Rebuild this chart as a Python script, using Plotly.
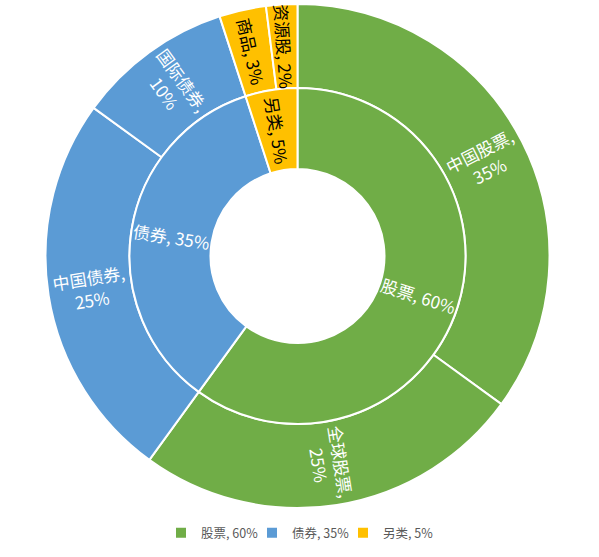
import math
import plotly.graph_objects as go

# Inner ring: asset classes
inner_names = ["股票", "债券", "另类"]
inner_values = [60, 35, 5]
# Outer ring: sub-categories
outer_names = ["中国股票", "全球股票", "中国债券", "国际债券", "商品", "资源股"]
outer_values = [35, 25, 25, 10, 3, 2]
outer_parent = ["股票", "股票", "债券", "债券", "另类", "另类"]

color_map = {"股票": "#70AD47", "债券": "#5B9BD5", "另类": "#FFC000"}
text_color_map = {"股票": "white", "债券": "white", "另类": "black"}

FONT = "Noto Sans CJK SC, Microsoft YaHei, sans-serif"

# geometry (pixels)
W, H = 599, 557
ML, MR, MT, MB = 45, 49, 4, 49
PW, PH = W - ML - MR, H - MT - MB
R_OUT, R_MID, R_IN = 252, 168, 87

inner_labels = [f"{n}, {v}%" for n, v in zip(inner_names, inner_values)]
outer_text = [f"{n},<br>{v}%" if v >= 10 else f"{n}, {v}%"
              for n, v in zip(outer_names, outer_values)]

fig = go.Figure()

fig.add_trace(go.Pie(
    labels=outer_names,
    values=outer_values,
    textinfo="none",
    hole=R_MID / R_OUT,
    sort=False,
    direction="clockwise",
    rotation=0,
    marker=dict(colors=[color_map[p] for p in outer_parent],
                line=dict(color="white", width=2)),
    showlegend=False,
    domain=dict(x=[0, 1], y=[0, 1]),
))

fig.add_trace(go.Pie(
    labels=inner_labels,
    values=inner_values,
    textinfo="none",
    hole=R_IN / R_MID,
    sort=False,
    direction="clockwise",
    rotation=0,
    marker=dict(colors=[color_map[n] for n in inner_names],
                line=dict(color="white", width=2)),
    showlegend=True,
    domain=dict(x=[0.5 - R_MID / PW, 0.5 + R_MID / PW],
                y=[0.5 - R_MID / PH, 0.5 + R_MID / PH]),
))


def add_ring_labels(values, texts, colors, r_label):
    total = sum(values)
    cum = 0
    for v, t, c in zip(values, texts, colors):
        theta = (cum + v / 2) / total * 360.0  # clockwise from 12 o'clock
        cum += v
        rot = theta - 90
        while rot > 90:
            rot -= 180
        while rot < -90:
            rot += 180
        rad = math.radians(theta)
        x = 0.5 + r_label * math.sin(rad) / PW
        y = 0.5 + r_label * math.cos(rad) / PH
        fig.add_annotation(
            x=x, y=y, xref="paper", yref="paper",
            text=t, showarrow=False, textangle=rot,
            xanchor="center", yanchor="middle",
            font=dict(family=FONT, size=17, color=c),
        )


add_ring_labels(outer_values, outer_text,
                [text_color_map[p] for p in outer_parent], (R_MID + R_OUT) / 2)
add_ring_labels(inner_values, inner_labels,
                [text_color_map[n] for n in inner_names], (R_IN + R_MID) / 2)

fig.update_layout(
    width=W, height=H,
    margin=dict(l=ML, r=MR, t=MT, b=MB),
    paper_bgcolor="white",
    plot_bgcolor="white",
    font=dict(family=FONT),
    legend=dict(
        orientation="h",
        x=0.5, xanchor="center",
        yref="container", y=1 - 533 / 557, yanchor="middle",
        font=dict(family=FONT, size=12.5, color="#595959"),
        traceorder="normal",
        itemwidth=30,
        entrywidth=46,
        entrywidthmode="pixels",
    ),
)

fig.write_html("out.html")
